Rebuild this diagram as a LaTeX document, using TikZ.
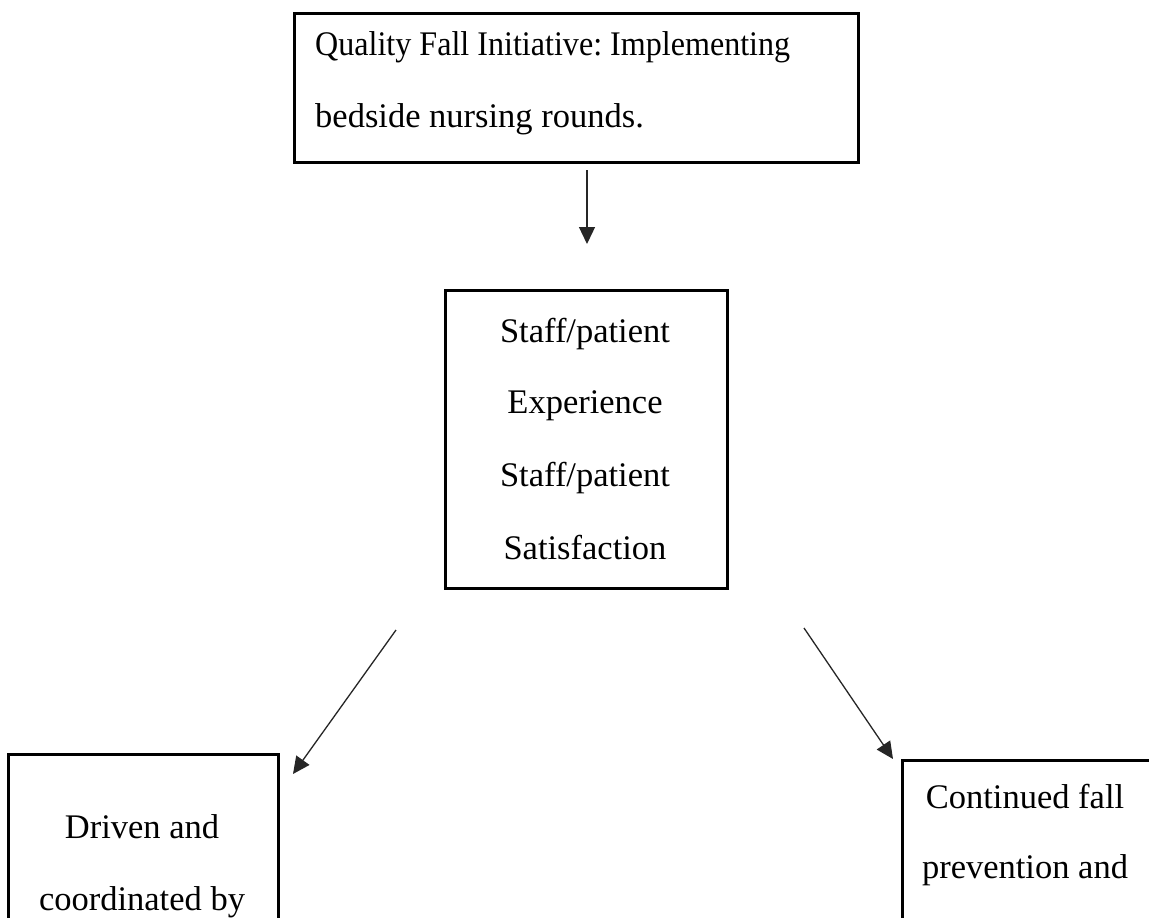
\documentclass[tikz,border=0pt]{standalone}
\usepackage{fontspec}
\setmainfont{Liberation Serif}
\usetikzlibrary{arrows.meta}
\frenchspacing
\begin{document}
\begin{tikzpicture}[x=1pt,y=-1pt,
  boxstyle/.style={draw=black,line width=2.6pt,anchor=north west,inner sep=0pt},
  txt/.style={font=\fontsize{34.5}{40}\selectfont,inner sep=0pt},
  arr/.style={line width=1.3pt,draw=black!85,-{Triangle[length=17pt,width=16pt]}}]
\useasboundingbox (0,0) rectangle (1149,918);
\clip (0,0) rectangle (1149,918);
\fill[white] (0,0) rectangle (1149,918);
% boxes
\node[boxstyle,minimum width=564pt,minimum height=149pt] (top) at (293,12) {};
\node[boxstyle,minimum width=282pt,minimum height=298pt] (mid) at (444,289) {};
\node[boxstyle,minimum width=270pt,minimum height=300pt] (left) at (7,753) {};
\node[boxstyle,minimum width=300pt,minimum height=300pt] (right) at (901,759) {};
% texts
\node[txt,anchor=base west] (t1) at (315,55) {\scalebox{0.93}[1]{Quality Fall Initiative: Implementing}};
\node[txt,anchor=base west] (t2) at (315,127) {bedside nursing rounds.};
\node[txt,anchor=base] (m1) at (585,342) {Staff/patient};
\node[txt,anchor=base] (m2) at (585,413) {Experience};
\node[txt,anchor=base] (m3) at (585,486) {Staff/patient};
\node[txt,anchor=base] (m4) at (585,559) {Satisfaction};
\node[txt,anchor=base] (l1) at (142,838) {Driven and};
\node[txt,anchor=base] (l2) at (142,910) {coordinated by};
\node[txt,anchor=base] (r1) at (1025,808) {Continued fall};
\node[txt,anchor=base] (r2) at (1025,878) {prevention and};
% arrow endpoints
\coordinate (a1s) at (587,170);
\coordinate (a1e) at (587,244);
\coordinate (a2s) at (396,630);
\coordinate (a2e) at (293,774);
\coordinate (a3s) at (804,628);
\coordinate (a3e) at (893,759);
\draw[arr] (a1s) -- (a1e);
\draw[arr] (a2s) -- (a2e);
\draw[arr] (a3s) -- (a3e);
\end{tikzpicture}
\end{document}
